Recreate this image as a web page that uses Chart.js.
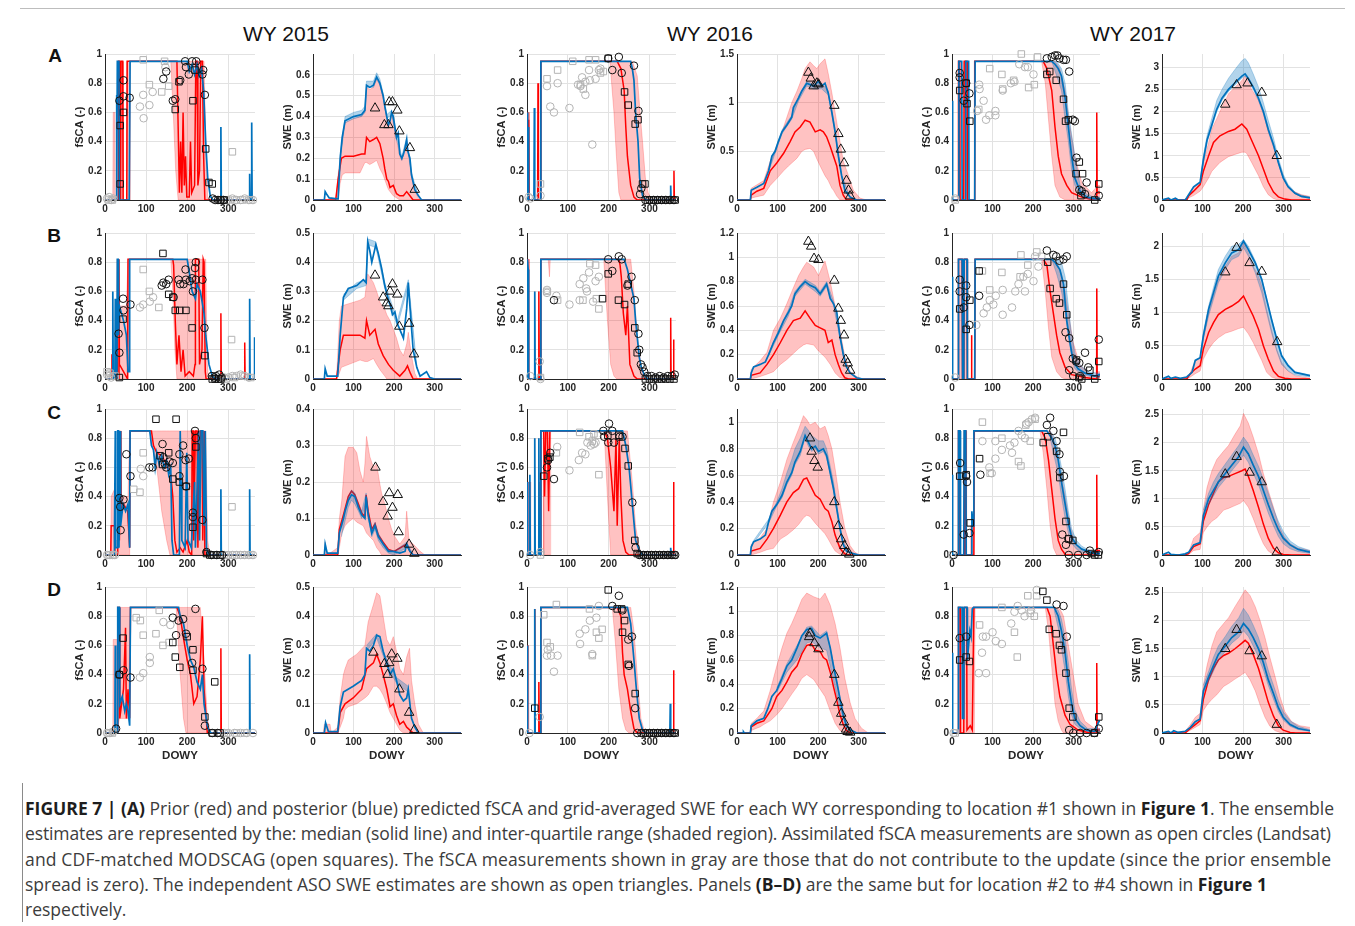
<!DOCTYPE html>
<html><head><meta charset="utf-8">
<script src="https://cdn.jsdelivr.net/npm/chart.js@4.4.1/dist/chart.umd.min.js"></script>
<style>
body{margin:0;width:1355px;height:926px;background:#fff;position:relative;overflow:hidden;font-family:"Liberation Sans",Arial,sans-serif}
.yr{position:absolute;font-size:21px;color:#111;transform:translate(-50%,-50%);white-space:nowrap}
.lt{position:absolute;font-size:19px;font-weight:bold;color:#111;transform:translate(-50%,-50%)}
.cap{position:absolute;left:25px;font-family:"Open Sans","Liberation Sans",sans-serif;font-size:16px;line-height:20px;color:#3c3c3c;white-space:nowrap}
.cap b{color:#1e1e1e}
</style></head><body>
<div style="position:absolute;left:20px;top:8px;width:1325px;height:1px;background:#bdbdbd"></div>
<div class="yr" style="left:286px;top:34px">WY 2015</div>
<div class="yr" style="left:710px;top:34px">WY 2016</div>
<div class="yr" style="left:1133px;top:34px">WY 2017</div>
<div class="lt" style="left:55px;top:56px">A</div>
<div class="lt" style="left:54px;top:236px">B</div>
<div class="lt" style="left:54px;top:413px">C</div>
<div class="lt" style="left:54px;top:590px">D</div>
<div style="position:absolute;left:22px;top:783px;width:1px;height:139px;background:#8a8a8a"></div>
<div class="cap" id="cap1" data-w="1309" style="top:798px"><b>FIGURE 7 | (A)</b> Prior (red) and posterior (blue) predicted fSCA and grid-averaged SWE for each WY corresponding to location #1 shown in <b>Figure 1</b>. The ensemble</div>
<div class="cap" data-w="1306" style="top:823px">estimates are represented by the: median (solid line) and inter-quartile range (shaded region). Assimilated fSCA measurements are shown as open circles (Landsat)</div>
<div class="cap" data-w="1306" style="top:849px">and CDF-matched MODSCAG (open squares). The fSCA measurements shown in gray are those that do not contribute to the update (since the prior ensemble</div>
<div class="cap" data-w="1242" style="top:874px">spread is zero). The independent ASO SWE estimates are shown as open triangles. Panels <b>(B–D)</b> are the same but for location #2 to #4 shown in <b>Figure 1</b></div>
<div class="cap" style="top:899px">respectively.</div>
<script>
// ---------- axis ticks / limits ----------
var xTicks = [0,100,200,300];
var yTicksF = [0,0.2,0.4,0.6,0.8,1];
var sweMax = [[0.7,1.5,3.3],[0.5,1.2,2.2],[0.4,1.1,2.6],[0.5,1.2,2.6]];
var sweTicks = [
 [[0,0.1,0.2,0.3,0.4,0.5,0.6],[0,0.5,1,1.5],[0,0.5,1,1.5,2,2.5,3]],
 [[0,0.1,0.2,0.3,0.4,0.5],[0,0.2,0.4,0.6,0.8,1,1.2],[0,0.5,1,1.5,2]],
 [[0,0.1,0.2,0.3,0.4],[0,0.2,0.4,0.6,0.8,1],[0,0.5,1,1.5,2,2.5]],
 [[0,0.1,0.2,0.3,0.4,0.5],[0,0.2,0.4,0.6,0.8,1,1.2],[0,0.5,1,1.5,2,2.5]]];

// ---------- Row A, WY2015 ----------
var fA15_pb=[[0,0,0],[19,0,0],[20,0,0.6],[24,0,0.6],[25,0,0],[31,0,0],[32,0,0.95],[44,0,0.95],[45,0,0],[52,0,0],[53,0,0.95],[61,0,0.95],[62,0.95,0.95],[160,0.95,0.95],[166,0.6,0.95],[172,0.2,0.95],[178,0,0.95],[241,0,0.95],[246,0,0.3],[250,0,0],[365,0,0]];
var fA15_pm=[[0,0],[32,0],[33,0.95],[35,0.95],[36,0],[38,0],[39,0.95],[43,0.95],[44,0],[53,0],[54,0.95],[175,0.95],[178,0.5],[181,0.05],[184,0.4],[187,0.05],[190,0.6],[193,0.1],[196,0.3],[199,0.02],[205,0.02],[208,0.4],[211,0.05],[218,0.1],[221,0.95],[224,0.95],[226,0.1],[230,0.2],[233,0.95],[237,0.95],[240,0.3],[243,0],[365,0]];
var fA15_qm=[[0,0],[27,0],[28,0.72],[29,0],[30,0.95],[34,0.95],[35,0],[59,0],[61,0.95],[200,0.95],[205,0.88],[212,0.93],[218,0.86],[224,0.93],[229,0.85],[235,0.9],[240,0.75],[245,0.4],[250,0.15],[256,0.03],[262,0],[281,0],[282,0.5],[283,0],[351,0],[352,0.18],[353,0],[356,0],[357,0.53],[358,0],[365,0]];
var fA15_oc=[[35,0.68],[45,0.82],[45,0.71],[60,0.7],[142,0.83],[149,0.88],[165,0.68],[171,0.69],[183,0.82],[195,0.95],[197,0.91],[204,0.86],[212,0.95],[222,0.95],[237,0.86],[239,0.89],[243,0.72],[262,0.01],[268,0],[275,0],[282,0],[288,0]];
var fA15_os=[[37,0.51],[37,0.11],[45,0.6],[171,0.62],[180,0.81],[214,0.68],[219,0.89],[245,0.35],[253,0.12],[261,0.11],[280,0],[290,0]];
var fA15_gc=[[5,0.01],[10,0.02],[15,0],[20,0.01],[85,0.64],[93,0.72],[94,0.56],[108,0.65],[116,0.74],[147,0.91],[300,0],[310,0.01],[320,0],[330,0],[340,0.01],[350,0],[360,0]];
var fA15_gs=[[8,0],[18,0],[93,0.96],[108,0.79],[138,0.74],[145,0.95],[155,0.78],[310,0.33],[295,0],[315,0],[335,0],[355,0]];

var sA15_pb=[[0,0,0],[56,0,0],[62,0,0.12],[67,0.08,0.2],[72,0.12,0.3],[79,0.13,0.37],[100,0.13,0.39],[116,0.13,0.4],[128,0.18,0.42],[132,0.18,0.54],[140,0.17,0.53],[149,0.18,0.54],[157,0.19,0.58],[165,0.15,0.55],[173,0.12,0.49],[182,0.07,0.39],[186,0.05,0.35],[194,0.03,0.41],[198,0.02,0.39],[206,0.01,0.29],[214,0,0.21],[219,0,0.19],[231,0,0.28],[239,0,0.19],[243,0,0.11],[251,0,0.04],[260,0,0.01],[268,0,0],[365,0,0]];
var sA15_pm=[[0,0],[56,0],[62,0.1],[70,0.2],[79,0.21],[100,0.21],[120,0.22],[128,0.22],[132,0.3],[140,0.28],[149,0.29],[157,0.3],[165,0.27],[173,0.2],[177,0.15],[182,0.1],[186,0.09],[190,0.06],[198,0.07],[206,0.03],[214,0.02],[223,0.02],[231,0.04],[239,0.02],[247,0],[365,0]];
var sA15_qb=[[67,0.19,0.21],[79,0.37,0.4],[100,0.39,0.42],[120,0.4,0.43],[128,0.42,0.45],[132,0.54,0.57],[149,0.54,0.57],[157,0.58,0.61],[165,0.55,0.58],[173,0.49,0.51],[182,0.39,0.41],[194,0.41,0.43],[206,0.29,0.31],[219,0.19,0.21],[231,0.28,0.3],[243,0.11,0.13],[260,0.02,0.02]];
var sA15_qm=[[0,0],[28,0],[30,0.04],[33,0.03],[40,0.01],[60,0.005],[62,0.005],[67,0.2],[72,0.3],[79,0.38],[100,0.4],[120,0.41],[128,0.43],[132,0.55],[140,0.54],[149,0.55],[157,0.59],[165,0.56],[173,0.5],[177,0.45],[182,0.4],[186,0.36],[190,0.38],[194,0.42],[198,0.4],[202,0.35],[206,0.3],[210,0.32],[214,0.22],[219,0.2],[223,0.22],[227,0.25],[231,0.29],[233,0.24],[239,0.2],[243,0.12],[251,0.05],[260,0.02],[268,0],[365,0]];
var sA15_tri=[[153,0.44],[176,0.36],[186,0.36],[188,0.47],[196,0.47],[208,0.43],[213,0.33],[239,0.25],[251,0.05]];

// ---------- Row A, WY2016 ----------
var fA16_pb=[[0,0,0],[1,0,0.6],[5,0,0.6],[6,0,0],[26,0,0],[27,0,0.8],[29,0,0.8],[30,0,0],[33,0,0],[34,0.95,0.95],[203,0.95,0.95],[213,0.6,0.95],[219,0.3,0.95],[225,0.05,0.95],[230,0,0.95],[258,0,0.95],[270,0,0.85],[277,0,0.6],[283,0,0.4],[290,0,0.15],[297,0,0.05],[305,0,0],[365,0,0]];
var fA16_pm=[[0,0],[1,0.6],[2,0],[4,0.55],[5,0],[26,0],[27,0.8],[28,0],[33,0],[34,0.95],[221,0.95],[230,0.9],[238,0.75],[242,0.5],[246,0.3],[250,0.2],[254,0.1],[262,0.02],[270,0],[359,0],[360,0.2],[361,0],[365,0]];
var fA16_qm=[[0,0],[1,0.6],[2,0],[3,0.5],[4,0],[17,0],[18,0.63],[19,0],[33,0],[34,0.95],[254,0.95],[258,0.9],[262,0.82],[266,0.6],[272,0.4],[276,0.15],[283,0.03],[291,0],[351,0],[352,0.1],[353,0],[365,0]];
var fA16_oc=[[199,0.97],[209,0.89],[225,0.98],[232,0.87],[262,0.92],[273,0.61],[280,0.08],[277,0.04],[290,0],[300,0],[310,0],[320,0],[330,0],[340,0],[350,0],[360,0]];
var fA16_os=[[199,0.97],[239,0.74],[248,0.65],[265,0.52],[272,0.55],[283,0.11],[289,0.11],[295,0],[305,0],[315,0],[325,0],[335,0],[345,0],[355,0],[363,0]];
var fA16_gc=[[4,0.02],[8,0.01],[33,0.03],[49,0.78],[57,0.64],[66,0.6],[75,0.8],[104,0.63],[125,0.79],[131,0.78],[135,0.84],[143,0.81],[143,0.72],[152,0.89],[154,0.82],[160,0.38],[168,0.83],[176,0.89],[180,0.9]];
var fA16_gs=[[33,0.11],[49,0.83],[75,0.89],[112,0.95],[131,0.79],[138,0.76],[152,0.96],[168,0.96],[180,0.87],[187,0.88]];

var sA16_pb=[[0,0,0],[33,0,0],[35,0.02,0.12],[66,0.05,0.2],[82,0.15,0.4],[98,0.22,0.55],[115,0.3,0.75],[127,0.35,0.9],[135,0.38,1.0],[148,0.43,1.12],[160,0.5,1.25],[168,0.52,1.35],[180,0.53,1.42],[189,0.5,1.38],[197,0.42,1.35],[205,0.35,1.4],[217,0.25,1.45],[225,0.2,1.3],[234,0.12,1.1],[238,0.1,1.0],[246,0.04,0.8],[254,0,0.6],[262,0,0.4],[275,0,0.25],[287,0,0.1],[303,0,0.02],[320,0,0],[365,0,0]];
var sA16_pm=[[0,0],[33,0],[35,0.05],[49,0.09],[66,0.12],[82,0.3],[98,0.38],[115,0.48],[131,0.6],[143,0.7],[156,0.75],[168,0.82],[180,0.8],[193,0.7],[205,0.72],[213,0.7],[221,0.65],[230,0.55],[238,0.45],[246,0.35],[254,0.15],[262,0.05],[270,0],[365,0]];
var sA16_qb=[[78,0.29,0.31],[94,0.48,0.52],[111,0.68,0.72],[135,0.83,0.87],[152,1.02,1.07],[172,1.17,1.22],[189,1.14,1.19],[209,1.14,1.2],[225,1.08,1.12],[242,0.68,0.72],[258,0.24,0.26],[279,0.02,0.03]];
var sA16_qm=[[0,0],[33,0],[35,0.1],[49,0.13],[66,0.17],[78,0.3],[86,0.45],[94,0.5],[102,0.6],[111,0.7],[123,0.77],[135,0.85],[139,0.95],[152,1.05],[160,1.12],[172,1.2],[189,1.17],[201,1.22],[209,1.17],[217,1.2],[225,1.1],[234,0.9],[242,0.7],[250,0.45],[258,0.25],[266,0.1],[279,0.03],[295,0],[365,0]];
var sA16_tri=[[176,1.31],[182,1.25],[189,1.17],[197,1.2],[201,1.19],[240,0.97],[250,0.68],[256,0.52],[264,0.38],[270,0.2],[275,0.1],[279,0.04]];

// ---------- Row A, WY2017 ----------
var fA17_pb=[[0,0,0],[15,0,0],[16,0,0.95],[19,0,0.95],[20,0,0],[29,0,0],[30,0,0.95],[37,0,0.95],[38,0,0],[55,0,0],[56,0.95,0.95],[221,0.95,0.95],[230,0.8,0.95],[238,0.55,0.95],[246,0.3,0.95],[254,0.1,0.95],[266,0.02,0.9],[279,0,0.75],[291,0,0.5],[303,0,0.3],[320,0,0.12],[344,0,0.05],[360,0,0.1],[365,0,0.1]];
var fA17_pm=[[0,0],[15,0],[16,0.95],[19,0.95],[20,0],[29,0],[30,0.95],[37,0.95],[38,0],[55,0],[56,0.95],[225,0.95],[234,0.9],[246,0.75],[254,0.5],[262,0.3],[270,0.18],[283,0.1],[295,0.05],[320,0.02],[350,0],[356,0],[357,0.6],[358,0.05],[365,0.05]];
var fA17_qb=[[246,0.95,0.95],[258,0.85,0.95],[270,0.75,0.9],[279,0.55,0.8],[287,0.4,0.6],[295,0.2,0.45],[303,0.1,0.3],[316,0.03,0.1],[332,0.01,0.04],[350,0,0.02],[365,0,0.02]];
var fA17_qm=[[0,0],[1,0.68],[2,0],[16,0],[17,0.95],[24,0.95],[25,0],[33,0],[34,0.95],[41,0.95],[42,0],[56,0],[57,0.95],[246,0.95],[254,0.93],[262,0.9],[270,0.85],[279,0.7],[287,0.5],[295,0.3],[303,0.15],[316,0.06],[332,0.02],[352,0.01],[365,0.01]];
var fA17_oc=[[19,0.87],[19,0.84],[29,0.68],[35,0.8],[43,0.73],[234,0.97],[246,0.98],[254,0.99],[260,0.99],[265,0.97],[275,0.96],[281,0.96],[289,0.88],[298,0.55],[303,0.54],[307,0.29],[314,0.07],[320,0.06],[328,0.04],[332,0.12],[362,0.03]];
var fA17_os=[[19,0.75],[35,0.8],[37,0.66],[44,0.54],[234,0.86],[241,0.88],[257,0.82],[275,0.69],[280,0.54],[287,0.55],[306,0.18],[314,0.26],[322,0.18],[318,0.03],[352,0],[362,0.11]];
var fA17_gc=[[8,0.01],[62,0.61],[67,0.79],[68,0.76],[78,0.68],[84,0.55],[92,0.58],[107,0.61],[107,0.58],[125,0.75],[145,0.8],[154,0.81],[166,0.93],[180,0.91],[187,0.91],[201,0.86]];
var fA17_gs=[[8,0],[66,0.62],[93,0.9],[123,0.86],[125,0.76],[152,0.82],[171,1.0],[189,0.77],[203,0.79],[211,0.98]];

var sA17_pb=[[0,0,0],[61,0,0],[66,0.05,0.1],[78,0.1,0.28],[94,0.2,0.38],[102,0.3,0.85],[115,0.5,1.3],[123,0.65,1.6],[143,0.85,2.0],[164,0.98,2.4],[180,1.03,2.55],[197,1.08,2.7],[205,1.08,2.8],[209,1.05,2.75],[221,0.85,2.5],[238,0.55,2.25],[250,0.3,1.95],[262,0.12,1.55],[275,0.03,1.2],[287,0,0.85],[299,0,0.5],[311,0,0.3],[328,0,0.18],[344,0,0.12],[365,0,0.08]];
var sA17_pm=[[0,0],[61,0],[66,0.1],[78,0.2],[94,0.35],[102,0.65],[115,1.0],[127,1.3],[143,1.45],[164,1.55],[180,1.6],[197,1.72],[209,1.6],[221,1.35],[238,1.0],[250,0.7],[262,0.4],[275,0.18],[287,0.07],[303,0.02],[320,0],[365,0]];
var sA17_qb=[[94,0.38,0.45],[102,0.85,1.0],[111,1.3,1.45],[123,1.65,1.85],[135,2.0,2.25],[148,2.25,2.5],[164,2.45,2.75],[180,2.6,2.95],[197,2.75,3.15],[205,2.8,3.2],[213,2.7,3.1],[225,2.5,2.85],[238,2.25,2.55],[250,1.95,2.2],[262,1.55,1.8],[275,1.2,1.4],[287,0.82,0.95],[299,0.48,0.58],[311,0.28,0.35],[328,0.14,0.18],[344,0.07,0.11],[365,0.05,0.07]];
var sA17_qm=[[0,0],[16,0.04],[22,0],[33,0.04],[40,0],[57,0],[61,0.05],[78,0.3],[86,0.35],[94,0.4],[102,0.9],[111,1.35],[123,1.7],[135,2.05],[148,2.3],[164,2.5],[180,2.65],[197,2.8],[205,2.85],[213,2.75],[225,2.55],[238,2.3],[250,2.0],[262,1.6],[275,1.25],[287,0.85],[299,0.5],[311,0.3],[328,0.15],[344,0.08],[365,0.05]];
var sA17_tri=[[156,2.16],[184,2.6],[211,2.64],[246,2.43],[283,1.0]];

// ---------- Row B, WY2015 ----------
var fB15_pb=[[0,0,0],[16,0,0],[17,0,0.17],[18,0,0],[28,0,0],[29,0,0.82],[34,0,0.82],[35,0,0.5],[52,0,0.5],[56,0,0.82],[60,0.82,0.82],[160,0.82,0.82],[165,0.6,0.82],[170,0.2,0.82],[175,0,0.82],[245,0,0.82],[249,0,0.1],[252,0,0],[365,0,0]];
var fB15_pm=[[0,0],[16,0],[17,0.17],[18,0],[28,0],[29,0.48],[30,0],[33,0],[34,0.82],[35,0.1],[45,0.05],[55,0],[56,0.82],[165,0.82],[167,0.78],[171,0.4],[175,0.1],[180,0.3],[185,0.05],[190,0.2],[195,0.02],[205,0.05],[215,0.02],[219,0.1],[220,0.82],[228,0.82],[230,0.1],[236,0.2],[239,0.82],[241,0.8],[244,0.05],[246,0],[281,0],[282,0.45],[283,0],[339,0],[340,0.25],[341,0],[365,0]];
var fB15_qm=[[0,0],[18,0],[19,0.6],[20,0],[24,0],[25,0.55],[26,0],[29,0],[30,0.82],[32,0.82],[33,0.3],[35,0.5],[40,0.45],[45,0.4],[52,0.3],[56,0.05],[59,0.05],[60,0.82],[200,0.82],[204,0.75],[212,0.6],[220,0.55],[224,0.65],[232,0.6],[241,0.45],[245,0.3],[253,0.1],[261,0.02],[268,0],[351,0],[352,0.55],[353,0],[363,0],[364,0.28],[365,0.28]];
var fB15_oc=[[33,0.31],[35,0.18],[44,0.55],[45,0.47],[62,0.51],[138,0.64],[142,0.66],[149,0.65],[155,0.68],[167,0.56],[179,0.68],[183,0.65],[191,0.65],[196,0.75],[197,0.68],[206,0.67],[212,0.69],[214,0.6],[219,0.76],[221,0.8],[221,0.68],[237,0.68],[242,0.35],[260,0.02],[266,0.01],[270,0.02],[278,0.03],[284,0.01]];
var fB15_os=[[35,0.01],[44,0.41],[141,0.86],[155,0.58],[165,0.56],[171,0.47],[182,0.47],[197,0.47],[212,0.35],[243,0.16],[261,0],[268,0],[276,0],[282,0]];
var fB15_gc=[[5,0.03],[10,0.02],[15,0.01],[20,0.02],[85,0.49],[93,0.51],[109,0.53],[117,0.56],[290,0.01],[300,0.01],[310,0.02],[320,0.02],[330,0.03],[340,0.02],[350,0.01]];
var fB15_gs=[[5,0.05],[12,0.04],[25,0.02],[93,0.75],[108,0.6],[131,0.49],[308,0.27],[295,0],[315,0.01],[335,0.02],[355,0.01]];

var sB15_pb=[[0,0,0],[58,0,0],[65,0.02,0.2],[70,0.04,0.25],[116,0.065,0.27],[128,0.06,0.28],[135,0.06,0.36],[149,0.07,0.33],[157,0.05,0.3],[166,0.03,0.26],[177,0.01,0.24],[182,0,0.22],[190,0,0.2],[198,0,0.17],[206,0,0.14],[214,0,0.1],[223,0,0.08],[231,0,0.12],[235,0,0.16],[243,0,0.08],[251,0,0.02],[258,0,0],[365,0,0]];
var sB15_pm=[[0,0],[58,0],[67,0.1],[75,0.15],[116,0.15],[128,0.14],[132,0.2],[140,0.15],[153,0.17],[161,0.12],[173,0.08],[186,0.05],[198,0.03],[214,0.01],[227,0.03],[233,0.045],[240,0.02],[247,0],[365,0]];
var sB15_qb=[[75,0.27,0.29],[108,0.31,0.33],[131,0.32,0.34],[135,0.46,0.48],[155,0.45,0.47],[177,0.31,0.33],[208,0.18,0.2],[235,0.32,0.34],[256,0.035,0.045]];
var sB15_qm=[[0,0],[28,0],[30,0.035],[35,0.01],[61,0.01],[67,0.15],[75,0.28],[87,0.31],[108,0.32],[124,0.34],[131,0.33],[135,0.47],[140,0.44],[145,0.4],[150,0.43],[155,0.46],[161,0.43],[169,0.38],[177,0.32],[186,0.27],[191,0.25],[196,0.22],[202,0.23],[208,0.19],[214,0.17],[223,0.14],[231,0.24],[235,0.33],[239,0.25],[247,0.1],[256,0.04],[264,0.01],[280,0.025],[288,0.005],[300,0],[365,0]];
var sB15_tri=[[153,0.355],[173,0.28],[182,0.26],[186,0.25],[190,0.3],[196,0.325],[208,0.29],[213,0.18],[237,0.19],[249,0.085]];

// ---------- Row B, WY2016 ----------
var fB16_pb=[[0,0,0],[1,0,0.82],[5,0,0.82],[6,0,0],[18,0,0],[19,0,0.6],[20,0,0],[28,0,0],[29,0,0.6],[30,0,0],[33,0,0],[34,0.82,0.82],[52,0.82,0.82],[55,0.7,0.82],[57,0.82,0.82],[188,0.82,0.82],[197,0.4,0.82],[205,0.1,0.82],[213,0.02,0.82],[220,0,0.82],[254,0,0.82],[262,0,0.6],[270,0,0.3],[279,0,0.1],[287,0,0.02],[295,0,0],[365,0,0]];
var fB16_pm=[[0,0],[1,0.82],[2,0],[28,0],[29,0.6],[30,0],[33,0],[34,0.82],[225,0.82],[228,0.78],[231,0.7],[236,0.45],[242,0.3],[246,0.5],[252,0.1],[262,0.02],[270,0],[351,0],[352,0.42],[353,0],[358,0],[359,0.27],[360,0],[365,0]];
var fB16_qm=[[0,0],[1,0.82],[3,0.75],[4,0],[18,0],[19,0.6],[20,0],[33,0],[34,0.82],[238,0.82],[246,0.75],[254,0.65],[262,0.55],[266,0.4],[275,0.15],[280,0.08],[287,0.03],[295,0],[365,0]];
var fB16_oc=[[66,0.54],[199,0.82],[209,0.74],[225,0.84],[232,0.82],[246,0.64],[256,0.7],[264,0.54],[273,0.31],[275,0.2],[279,0.1],[283,0.08],[287,0.05],[295,0.02],[305,0.02],[315,0.01],[325,0.02],[335,0.01],[345,0.02],[355,0.02],[362,0.03]];
var fB16_os=[[185,0.55],[199,0.72],[224,0.54],[239,0.51],[248,0.65],[264,0.35],[270,0.18],[290,0],[300,0],[310,0],[320,0],[330,0],[340,0],[350,0],[360,0]];
var fB16_gc=[[8,0.02],[31,0.12],[33,0],[49,0.61],[49,0.59],[72,0.57],[104,0.51],[129,0.65],[129,0.54],[138,0.69],[145,0.62],[147,0.6],[152,0.73],[162,0.53],[168,0.67],[176,0.7]];
var fB16_gs=[[33,0.01],[49,0.6],[75,0.54],[137,0.54],[154,0.79],[168,0.78],[170,0.55],[176,0.48]];

var sB16_pb=[[0,0,0],[33,0,0],[35,0,0.08],[57,0.02,0.15],[74,0.04,0.22],[90,0.06,0.4],[107,0.12,0.5],[123,0.16,0.62],[139,0.21,0.75],[152,0.25,0.85],[164,0.28,0.92],[172,0.29,0.96],[189,0.28,0.92],[201,0.23,0.85],[217,0.18,0.97],[230,0.12,0.8],[242,0.05,0.6],[254,0.01,0.4],[266,0,0.18],[279,0,0.06],[295,0,0.02],[311,0,0],[365,0,0]];
var sB16_pm=[[0,0],[33,0],[35,0.03],[57,0.05],[74,0.12],[90,0.2],[107,0.3],[123,0.4],[139,0.48],[156,0.5],[168,0.56],[180,0.5],[193,0.44],[205,0.42],[217,0.4],[225,0.3],[234,0.32],[242,0.2],[250,0.12],[258,0.05],[266,0.01],[275,0],[365,0]];
var sB16_qb=[[78,0.19,0.21],[102,0.36,0.4],[127,0.52,0.57],[143,0.68,0.72],[168,0.78,0.82],[193,0.72,0.77],[205,0.68,0.72],[221,0.76,0.8],[238,0.6,0.64],[254,0.33,0.37],[270,0.09,0.11]];
var sB16_qm=[[0,0],[33,0],[35,0.05],[41,0.1],[57,0.12],[70,0.14],[78,0.2],[90,0.3],[102,0.38],[115,0.48],[127,0.55],[135,0.6],[143,0.7],[156,0.76],[168,0.8],[180,0.77],[193,0.75],[205,0.7],[213,0.74],[221,0.78],[230,0.66],[238,0.62],[246,0.55],[254,0.35],[262,0.2],[270,0.1],[279,0.05],[295,0.01],[310,0],[365,0]];
var sB16_tri=[[176,1.13],[183,1.09],[190,0.99],[201,0.98],[240,0.81],[250,0.58],[256,0.48],[264,0.36],[268,0.16],[273,0.13],[279,0.07]];

// ---------- Row B, WY2017 ----------
var fB17_pb=[[0,0,0],[15,0,0],[16,0,0.82],[25,0,0.82],[26,0,0],[29,0,0],[30,0,0.82],[37,0,0.82],[38,0,0],[47,0,0],[48,0,0.3],[49,0,0],[56,0,0],[57,0.82,0.82],[221,0.82,0.82],[230,0.6,0.82],[238,0.35,0.82],[246,0.15,0.82],[258,0.05,0.8],[270,0.01,0.72],[279,0,0.6],[287,0,0.45],[299,0,0.25],[315,0,0.1],[336,0,0.04],[355,0,0.02],[357,0,0.62],[359,0,0.05],[365,0,0.05]];
var fB17_pm=[[0,0],[15,0],[16,0.82],[25,0.82],[26,0],[29,0],[30,0.82],[37,0.82],[38,0],[47,0],[48,0.3],[49,0],[56,0],[57,0.82],[225,0.82],[234,0.78],[242,0.6],[250,0.45],[258,0.3],[266,0.18],[279,0.08],[295,0.03],[328,0.01],[356,0],[357,0.62],[358,0.02],[365,0.02]];
var fB17_qb=[[246,0.82,0.82],[258,0.72,0.82],[270,0.6,0.8],[279,0.45,0.7],[287,0.3,0.5],[295,0.15,0.3],[303,0.07,0.18],[315,0.04,0.1],[335,0.02,0.05],[360,0.01,0.04],[365,0.01,0.04]];
var fB17_qm=[[0,0],[1,0.7],[2,0],[15,0],[16,0.82],[25,0.82],[26,0],[29,0],[30,0.82],[37,0.82],[38,0],[56,0],[57,0.82],[246,0.82],[254,0.8],[266,0.75],[275,0.65],[283,0.4],[291,0.25],[299,0.12],[311,0.07],[328,0.04],[352,0.02],[365,0.03]];
var fB17_oc=[[19,0.68],[19,0.6],[29,0.49],[35,0.64],[35,0.56],[43,0.37],[67,0.57],[234,0.88],[250,0.85],[257,0.84],[265,0.81],[275,0.82],[283,0.84],[280,0.32],[289,0.28],[289,0.06],[298,0.14],[299,0.02],[306,0.12],[314,0.11],[316,0.02],[328,0.18],[336,0.08],[362,0.27]];
var fB17_os=[[19,0.48],[35,0.34],[44,0.54],[67,0.74],[236,0.8],[242,0.62],[257,0.55],[265,0.52],[275,0.65],[283,0.44],[307,0.13],[313,0.01],[320,0],[340,0.06],[352,0],[362,0.12]];
var fB17_gc=[[8,0.01],[60,0.37],[78,0.45],[86,0.49],[93,0.54],[102,0.51],[108,0.57],[125,0.61],[125,0.44],[148,0.49],[156,0.6],[164,0.65],[176,0.7],[180,0.6],[187,0.72],[201,0.67],[205,0.84],[213,0.77]];
var fB17_gs=[[75,0.74],[93,0.61],[123,0.73],[168,0.7],[170,0.85],[187,0.78],[209,0.87],[221,0.84]];

var sB17_pb=[[0,0,0],[61,0,0],[70,0.03,0.1],[82,0.08,0.28],[94,0.12,0.32],[102,0.3,0.62],[115,0.45,1.0],[127,0.55,1.25],[139,0.62,1.5],[156,0.69,1.7],[172,0.72,1.85],[189,0.76,1.9],[201,0.78,2.05],[213,0.68,1.9],[225,0.55,1.7],[238,0.38,1.55],[246,0.28,1.4],[258,0.1,1.05],[270,0.03,0.75],[283,0,0.45],[295,0,0.25],[311,0,0.12],[328,0,0.05],[365,0,0.01]];
var sB17_pm=[[0,0],[61,0],[70,0.08],[82,0.15],[94,0.2],[102,0.45],[115,0.7],[127,0.85],[139,0.97],[156,1.05],[172,1.1],[189,1.17],[201,1.25],[213,1.1],[225,0.95],[238,0.75],[250,0.5],[262,0.3],[275,0.12],[287,0.04],[303,0.01],[320,0],[365,0]];
var sB17_qb=[[94,0.3,0.34],[102,0.6,0.7],[115,0.95,1.1],[127,1.2,1.38],[139,1.45,1.65],[156,1.65,1.85],[172,1.8,2.0],[189,1.85,2.03],[201,1.98,2.1],[213,1.85,2.0],[230,1.6,1.78],[246,1.3,1.52],[258,1.0,1.22],[270,0.7,0.92],[283,0.42,0.62],[295,0.22,0.37],[311,0.12,0.22],[328,0.06,0.11],[365,0.03,0.06]];
var sB17_qm=[[0,0],[16,0.04],[22,0.01],[33,0.03],[45,0.01],[61,0.03],[74,0.1],[82,0.28],[94,0.32],[102,0.65],[115,1.05],[127,1.3],[139,1.55],[156,1.75],[172,1.9],[189,1.95],[201,2.08],[213,1.95],[230,1.75],[246,1.5],[258,1.2],[270,0.9],[283,0.6],[295,0.35],[311,0.2],[328,0.1],[365,0.05]];
var sB17_tri=[[156,1.61],[184,1.98],[216,1.75],[246,1.62],[284,0.56]];

// ---------- Row C, WY2015 ----------
var fC15_pb=[[0,0,0],[14,0,0],[15,0,0.4],[23,0,0.45],[24,0,0.1],[30,0,0.1],[31,0,0.85],[39,0,0.85],[40,0,0.4],[56,0,0.4],[60,0,0.85],[62,0.85,0.85],[109,0.85,0.85],[118,0.7,0.85],[126,0.6,0.85],[138,0.3,0.85],[150,0.1,0.85],[158,0,0.85],[245,0,0.85],[250,0,0.1],[255,0,0],[365,0,0]];
var fC15_pm=[[0,0],[14,0],[15,0.2],[23,0.2],[24,0],[31,0],[32,0.85],[34,0.85],[35,0.1],[38,0.85],[39,0.3],[45,0.35],[55,0.3],[60,0.05],[61,0.85],[113,0.85],[118,0.75],[126,0.7],[138,0.68],[150,0.62],[160,0.55],[165,0.4],[170,0.1],[175,0.02],[183,0.05],[190,0.02],[200,0.1],[205,0.02],[211,0],[212,0.85],[215,0.85],[216,0.1],[220,0.85],[224,0.85],[226,0.05],[232,0.85],[236,0.85],[238,0.1],[241,0.85],[243,0],[365,0]];
var fC15_qm=[[0,0],[22,0],[23,0.1],[25,0.85],[26,0.05],[30,0.05],[31,0.85],[33,0.85],[34,0.05],[37,0.85],[38,0.2],[44,0.35],[50,0.3],[56,0.35],[60,0.05],[61,0.85],[109,0.85],[113,0.75],[118,0.72],[122,0.6],[126,0.7],[132,0.62],[138,0.68],[144,0.6],[150,0.65],[155,0.55],[160,0.6],[163,0.1],[167,0],[181,0],[183,0.85],[185,0.5],[187,0.1],[195,0.05],[199,0.7],[202,0.1],[210,0.05],[218,0.5],[220,0.05],[228,0.85],[230,0.1],[234,0.85],[238,0.85],[241,0.2],[244,0.85],[247,0.05],[252,0],[281,0],[282,0.45],[283,0],[351,0],[352,0.45],[353,0],[365,0]];
var fC15_oc=[[35,0.39],[37,0.33],[38,0.17],[45,0.38],[52,0.69],[62,0.54],[108,0.6],[116,0.6],[140,0.76],[142,0.67],[146,0.62],[149,0.6],[157,0.64],[165,0.63],[181,0.69],[181,0.54],[190,0.75],[196,0.65],[197,0.47],[204,0.66],[214,0.29],[214,0.26],[219,0.85],[221,0.8],[237,0.24],[247,0.02],[259,0],[272,0],[285,0]];
var fC15_os=[[124,0.93],[134,0.68],[140,0.62],[155,0.7],[165,0.52],[173,0.93],[181,0.5],[198,0.47],[214,0.19],[221,0.74],[247,0.01],[255,0],[265,0],[280,0]];
var fC15_gc=[[5,0],[12,0],[18,0],[24,0],[87,0.59],[93,0.54],[290,0],[300,0],[310,0],[320,0],[330,0],[340,0],[350,0],[360,0]];
var fC15_gs=[[8,0],[20,0],[70,0.45],[85,0.43],[93,0.7],[309,0.33],[295,0],[315,0],[335,0],[355,0]];

var sC15_pb=[[0,0,0],[28,0,0],[30,0,0.035],[35,0,0],[61,0,0.02],[65,0.02,0.1],[71,0.06,0.15],[79,0.08,0.27],[87,0.09,0.295],[99,0.1,0.295],[108,0.09,0.28],[116,0.085,0.23],[124,0.08,0.2],[128,0.07,0.25],[132,0.06,0.325],[140,0.05,0.27],[149,0.04,0.24],[157,0.02,0.25],[164,0.01,0.2],[169,0,0.17],[177,0,0.14],[186,0,0.1],[194,0,0.07],[202,0,0.05],[214,0,0.03],[227,0,0.05],[231,0,0.12],[237,0,0.04],[247,0,0.03],[264,0,0.01],[276,0,0],[365,0,0]];
var sC15_pm=[[0,0],[61,0],[65,0.07],[75,0.11],[87,0.16],[95,0.175],[103,0.165],[112,0.14],[120,0.115],[128,0.105],[131,0.165],[136,0.12],[145,0.07],[153,0.085],[161,0.055],[173,0.035],[186,0.015],[200,0.01],[231,0.03],[239,0.01],[247,0],[365,0]];
var sC15_qb=[[70,0.05,0.08],[87,0.13,0.16],[95,0.15,0.178],[103,0.14,0.17],[112,0.12,0.14],[120,0.1,0.12],[131,0.15,0.17],[136,0.1,0.12],[145,0.05,0.07],[153,0.07,0.09],[161,0.04,0.06],[173,0.02,0.035],[186,0.005,0.015],[200,0,0.01],[231,0.02,0.035],[247,0,0.002]];
var sC15_qm=[[0,0],[28,0],[30,0.03],[35,0.005],[61,0.005],[65,0.06],[75,0.1],[79,0.12],[87,0.15],[95,0.165],[103,0.16],[112,0.13],[120,0.11],[128,0.1],[131,0.16],[136,0.11],[145,0.06],[153,0.08],[161,0.05],[173,0.03],[186,0.01],[198,0.01],[214,0.005],[227,0.01],[231,0.03],[239,0.01],[247,0],[365,0]];
var sC15_tri=[[154,0.24],[173,0.146],[184,0.106],[188,0.17],[196,0.13],[209,0.165],[211,0.063],[237,0.029],[250,0.004]];

// ---------- Row C, WY2016 ----------
var fC16_pb=[[0,0,0],[1,0,0.5],[8,0,0.5],[9,0,0],[18,0,0],[19,0,0.8],[20,0,0],[28,0,0],[29,0,0.8],[30,0,0],[33,0,0],[34,0.85,0.85],[40,0.85,0.85],[41,0,0.85],[57,0,0.85],[58,0.85,0.85],[189,0.85,0.85],[197,0.4,0.85],[205,0,0.85],[246,0,0.85],[258,0,0.5],[266,0,0.2],[275,0,0.05],[282,0,0],[365,0,0]];
var fC16_pm=[[0,0],[1,0.5],[2,0],[28,0],[29,0.5],[30,0],[33,0],[34,0.85],[41,0.85],[43,0.4],[46,0.85],[50,0.85],[53,0.3],[56,0.85],[189,0.85],[197,0.8],[205,0.6],[213,0.3],[218,0.8],[221,0.2],[226,0.8],[230,0.4],[235,0.1],[242,0.02],[250,0],[358,0],[359,0.5],[360,0],[365,0]];
var fC16_qm=[[0,0],[1,0.5],[2,0],[6,0],[7,0.55],[8,0],[18,0],[19,0.8],[20,0],[28,0],[29,0.8],[30,0],[33,0],[34,0.85],[234,0.85],[242,0.75],[250,0.6],[258,0.35],[266,0.1],[275,0.03],[283,0],[351,0],[352,0.05],[353,0],[365,0]];
var fC16_oc=[[49,0.6],[52,0.65],[57,0.7],[66,0.52],[187,0.85],[189,0.81],[199,0.77],[201,0.9],[209,0.85],[213,0.77],[227,0.81],[234,0.81],[258,0.36],[266,0.05],[275,0],[285,0],[295,0],[305,0],[315,0],[325,0],[335,0],[345,0],[355,0],[363,0]];
var fC16_os=[[41,0.54],[51,0.66],[56,0.67],[198,0.82],[225,0.82],[240,0.73],[248,0.61],[264,0.1],[270,0.01],[280,0],[290,0],[300,0],[310,0],[320,0],[330,0],[340,0],[350,0],[360,0]];
var fC16_gc=[[8,0],[33,0.02],[74,0.74],[104,0.58],[127,0.65],[135,0.7],[143,0.69],[148,0.77],[156,0.75],[164,0.76],[168,0.77]];
var fC16_gs=[[33,0],[72,0.7],[129,0.84],[152,0.81],[160,0.78],[164,0.83],[174,0.82],[176,0.55]];

var sC16_pb=[[0,0,0],[33,0,0],[35,0,0.08],[57,0.02,0.13],[74,0.04,0.2],[90,0.05,0.4],[107,0.12,0.55],[123,0.15,0.72],[139,0.19,0.85],[152,0.23,0.95],[164,0.28,1.05],[172,0.3,1.02],[180,0.29,0.98],[193,0.24,1.0],[205,0.2,0.95],[217,0.16,0.97],[225,0.12,0.9],[234,0.07,0.8],[242,0.03,0.65],[254,0.005,0.4],[266,0,0.2],[279,0,0.07],[291,0,0.02],[303,0,0],[365,0,0]];
var sC16_pm=[[0,0],[33,0],[35,0.03],[57,0.05],[74,0.12],[90,0.2],[107,0.3],[123,0.4],[139,0.47],[152,0.5],[164,0.57],[172,0.58],[180,0.53],[193,0.45],[205,0.42],[217,0.35],[225,0.33],[234,0.25],[242,0.15],[254,0.05],[262,0.02],[270,0],[365,0]];
var sC16_qb=[[41,0.09,0.11],[78,0.24,0.27],[98,0.37,0.4],[111,0.43,0.5],[123,0.53,0.62],[135,0.6,0.72],[143,0.68,0.8],[156,0.75,0.88],[168,0.88,0.97],[176,0.82,0.94],[184,0.78,0.9],[193,0.8,0.88],[201,0.76,0.86],[213,0.78,0.86],[221,0.73,0.8],[230,0.6,0.67],[238,0.48,0.55],[246,0.33,0.38],[254,0.19,0.22],[262,0.07,0.1],[275,0.02,0.03],[290,0,0.01]];
var sC16_qm=[[0,0],[33,0],[35,0.06],[41,0.1],[57,0.12],[70,0.15],[78,0.25],[86,0.33],[98,0.38],[111,0.45],[123,0.55],[135,0.62],[143,0.7],[156,0.78],[168,0.9],[176,0.85],[184,0.8],[193,0.82],[201,0.78],[213,0.8],[221,0.75],[230,0.62],[238,0.5],[246,0.35],[254,0.2],[262,0.08],[270,0.03],[287,0.01],[300,0],[365,0]];
var sC16_tri=[[180,0.88],[184,0.78],[191,0.71],[199,0.66],[240,0.4],[250,0.22],[257,0.12],[265,0.07],[269,0.02],[277,0.005]];

// ---------- Row C, WY2017 ----------
var fC17_pb=[[0,0,0],[15,0,0],[16,0,0.85],[20,0,0.85],[21,0,0],[29,0,0],[30,0,0.85],[35,0,0.85],[36,0,0],[45,0,0],[46,0,0.2],[53,0,0.2],[54,0,0.85],[55,0.85,0.85],[217,0.85,0.85],[225,0.7,0.85],[234,0.45,0.85],[242,0.2,0.85],[250,0.05,0.8],[258,0,0.72],[266,0,0.6],[279,0,0.4],[291,0,0.2],[303,0,0.08],[320,0,0.04],[352,0,0.02],[365,0,0.02]];
var fC17_pm=[[0,0],[15,0],[16,0.85],[19,0.85],[20,0],[30,0],[31,0.85],[34,0.85],[35,0],[54,0],[55,0.85],[221,0.85],[230,0.8],[238,0.65],[246,0.45],[254,0.25],[262,0.1],[270,0.04],[280,0],[356,0],[357,0.55],[358,0.03],[365,0.03]];
var fC17_qb=[[242,0.8,0.85],[254,0.65,0.8],[262,0.55,0.72],[270,0.4,0.6],[279,0.25,0.45],[287,0.15,0.3],[295,0.08,0.18],[307,0.04,0.1],[320,0.02,0.06],[340,0.01,0.03],[365,0,0.02]];
var fC17_qm=[[0,0],[1,0.55],[2,0],[15,0],[16,0.85],[20,0.85],[21,0],[29,0],[30,0.85],[34,0.85],[35,0],[48,0],[49,0.3],[52,0.2],[54,0.85],[234,0.85],[246,0.8],[254,0.75],[262,0.65],[270,0.5],[279,0.35],[287,0.22],[295,0.12],[307,0.07],[320,0.04],[352,0.01],[365,0.01]];
var fC17_oc=[[4,0],[20,0.63],[29,0.14],[35,0.54],[37,0.5],[43,0.15],[70,0.55],[234,0.89],[242,0.94],[250,0.85],[258,0.78],[265,0.69],[266,0.57],[272,0.14],[276,0.54],[281,0.07],[287,0.11],[288,0],[311,0],[332,0],[340,0.03],[362,0.02]];
var fC17_os=[[19,0.54],[35,0.55],[45,0.22],[68,0.66],[225,0.77],[236,0.81],[258,0.71],[266,0.53],[275,0.84],[281,0.23],[288,0.11],[298,0.1],[344,0.01],[352,0],[361,0]];
var fC17_gc=[[0,0],[75,0.78],[92,0.6],[98,0.56],[107,0.78],[107,0.66],[123,0.72],[143,0.75],[148,0.7],[154,0.77],[164,0.85],[172,0.82],[180,0.8],[184,0.9],[189,0.91],[197,0.93],[205,0.94]];
var fC17_gs=[[75,0.91],[94,0.56],[123,0.8],[164,0.64],[170,0.61],[182,0.89],[193,0.78],[205,0.93]];

var sC17_pb=[[0,0,0],[57,0,0],[66,0.01,0.05],[78,0.08,0.3],[94,0.1,0.4],[102,0.4,0.8],[111,0.5,1.2],[123,0.6,1.5],[135,0.66,1.7],[152,0.8,1.85],[164,0.83,1.95],[180,0.88,2.15],[193,0.92,2.3],[201,0.97,2.52],[213,0.85,2.35],[225,0.65,2.1],[238,0.4,1.8],[250,0.2,1.45],[262,0.07,1.15],[275,0.01,0.85],[287,0,0.55],[299,0,0.35],[316,0,0.2],[336,0,0.12],[365,0,0.08]];
var sC17_pm=[[0,0],[57,0],[66,0.03],[78,0.15],[94,0.2],[102,0.6],[115,0.9],[127,1.1],[139,1.3],[152,1.38],[164,1.4],[180,1.45],[197,1.5],[205,1.53],[213,1.4],[225,1.15],[238,0.85],[250,0.55],[262,0.3],[275,0.12],[287,0.04],[299,0.01],[320,0],[365,0]];
var sC17_qb=[[102,0.65,0.8],[115,0.9,1.1],[127,1.05,1.3],[139,1.2,1.45],[156,1.35,1.62],[172,1.5,1.78],[189,1.65,1.95],[201,1.78,2.1],[213,1.65,1.98],[225,1.45,1.78],[238,1.25,1.58],[250,1.0,1.35],[262,0.75,1.1],[275,0.52,0.82],[287,0.33,0.6],[299,0.2,0.42],[316,0.11,0.25],[336,0.06,0.15],[365,0.03,0.08]];
var sC17_qm=[[0,0],[16,0.05],[22,0.01],[40,0],[57,0.02],[66,0.05],[78,0.18],[94,0.22],[102,0.7],[115,1.0],[127,1.15],[139,1.3],[156,1.45],[172,1.6],[189,1.75],[201,1.92],[213,1.8],[225,1.6],[238,1.4],[250,1.15],[262,0.9],[275,0.65],[287,0.45],[299,0.3],[316,0.18],[336,0.1],[365,0.05]];
var sC17_tri=[[156,1.44],[184,1.75],[216,1.47],[246,1.3],[283,0.05]];

// ---------- Row D, WY2015 ----------
var fD15_pb=[[0,0,0],[19,0,0],[20,0,0.64],[30,0,0.64],[31,0,0.86],[35,0.1,0.86],[45,0.1,0.86],[56,0.1,0.86],[62,0.86,0.86],[173,0.86,0.86],[183,0.4,0.86],[191,0.1,0.86],[197,0,0.86],[232,0,0.86],[241,0,0.5],[249,0,0.1],[257,0,0],[365,0,0]];
var fD15_pm=[[0,0],[30,0],[31,0.86],[35,0.86],[36,0.1],[45,0.3],[50,0.72],[52,0.1],[56,0.3],[60,0.1],[62,0.86],[175,0.86],[183,0.8],[191,0.65],[200,0.5],[208,0.4],[216,0.2],[224,0.25],[232,0.5],[237,0.8],[241,0.3],[249,0],[281,0],[282,0.58],[283,0],[365,0]];
var fD15_qm=[[0,0],[24,0],[25,0.6],[26,0],[30,0],[31,0.86],[35,0.86],[36,0.2],[42,0.25],[48,0.15],[52,0.2],[56,0.15],[60,0.05],[62,0.86],[179,0.86],[183,0.8],[191,0.75],[200,0.6],[208,0.5],[216,0.45],[224,0.35],[232,0.3],[237,0.4],[241,0.2],[249,0.05],[253,0.02],[258,0],[351,0],[352,0.54],[353,0],[365,0]];
var fD15_oc=[[27,0.03],[35,0.4],[45,0.43],[62,0.38],[165,0.79],[173,0.67],[179,0.77],[190,0.78],[197,0.68],[212,0.48],[220,0.85],[237,0.44],[243,0.05],[261,0],[274,0]];
var fD15_os=[[35,0.4],[44,0.65],[165,0.62],[171,0.52],[182,0.45],[200,0.66],[214,0.57],[214,0.43],[243,0.11],[261,0],[267,0.35],[280,0]];
var fD15_gc=[[5,0],[12,0],[20,0.01],[85,0.38],[93,0.41],[109,0.48],[109,0.52],[142,0.76],[159,0.74],[290,0],[300,0],[315,0],[330,0],[345,0],[360,0]];
var fD15_gs=[[8,0],[18,0],[76,0.79],[86,0.77],[93,0.67],[124,0.68],[132,0.84],[141,0.6],[156,0.62],[295,0],[320,0],[340,0]];

var sD15_pb=[[0,0,0],[25,0,0],[28,0,0.03],[42,0,0.03],[45,0,0],[61,0,0.02],[67,0.02,0.12],[75,0.05,0.2],[79,0.08,0.22],[87,0.09,0.25],[108,0.1,0.27],[128,0.12,0.3],[136,0.13,0.38],[149,0.16,0.44],[157,0.16,0.48],[165,0.15,0.47],[173,0.13,0.4],[182,0.1,0.32],[190,0.07,0.3],[198,0.05,0.33],[206,0.03,0.28],[214,0.01,0.22],[223,0,0.2],[231,0,0.26],[238,0,0.29],[243,0,0.18],[251,0,0.1],[260,0,0.03],[272,0,0],[365,0,0]];
var sD15_pm=[[0,0],[61,0],[67,0.07],[79,0.1],[99,0.12],[120,0.15],[132,0.22],[149,0.24],[157,0.27],[165,0.24],[173,0.2],[182,0.15],[190,0.09],[198,0.1],[206,0.06],[214,0.03],[223,0.04],[231,0.02],[239,0.01],[247,0],[365,0]];
var sD15_qb=[[132,0.28,0.3],[157,0.325,0.34],[182,0.23,0.25],[206,0.17,0.19],[235,0.14,0.16]];
var sD15_qm=[[0,0],[28,0],[31,0.035],[38,0.005],[61,0.005],[67,0.09],[75,0.14],[99,0.16],[120,0.18],[128,0.2],[132,0.29],[140,0.28],[149,0.3],[157,0.335],[165,0.33],[173,0.28],[182,0.24],[190,0.2],[198,0.22],[206,0.18],[214,0.13],[223,0.11],[231,0.12],[235,0.15],[243,0.05],[251,0.02],[260,0],[365,0]];
var sD15_tri=[[149,0.276],[176,0.237],[184,0.2],[188,0.24],[194,0.27],[208,0.255],[213,0.15],[237,0.07],[250,0.011]];

// ---------- Row D, WY2016 ----------
var fD16_pb=[[0,0,0],[1,0,0.6],[4,0,0.6],[5,0,0],[18,0,0],[19,0,0.85],[20,0,0],[28,0,0],[29,0,0.35],[30,0,0],[33,0,0],[34,0.86,0.86],[209,0.86,0.86],[217,0.6,0.86],[225,0.3,0.86],[234,0.1,0.86],[242,0.02,0.86],[250,0,0.86],[254,0,0.86],[262,0,0.7],[270,0,0.4],[279,0,0.1],[287,0,0.02],[295,0,0],[365,0,0]];
var fD16_pm=[[0,0],[1,0.6],[2,0],[18,0],[19,0.85],[20,0],[28,0],[29,0.35],[30,0],[33,0],[34,0.86],[221,0.86],[230,0.8],[234,0.55],[238,0.4],[246,0.3],[254,0.15],[262,0.03],[270,0],[358,0],[359,0.43],[360,0],[365,0]];
var fD16_qm=[[0,0],[1,0.6],[2,0],[18,0],[19,0.85],[20,0],[33,0],[34,0.86],[246,0.86],[254,0.75],[262,0.5],[268,0.3],[275,0.1],[283,0.02],[291,0],[350,0],[351,0.2],[352,0],[365,0]];
var fD16_oc=[[209,0.87],[225,0.94],[234,0.84],[248,0.64],[250,0.46],[257,0.66],[265,0.17],[270,0],[280,0],[290,0],[300,0],[310,0],[320,0],[330,0],[340,0],[350,0],[360,0]];
var fD16_os=[[19,0.17],[199,0.98],[221,0.85],[232,0.85],[234,0.69],[239,0.77],[248,0.47],[265,0.27],[285,0],[295,0],[305,0],[315,0],[325,0],[335,0],[345,0],[355,0],[363,0]];
var fD16_gc=[[6,0],[31,0.11],[49,0.53],[51,0.57],[59,0.53],[66,0.42],[75,0.53],[129,0.68],[130,0.61],[143,0.71],[154,0.77],[160,0.54],[170,0.79],[176,0.87]];
var fD16_gs=[[41,0.81],[49,0.62],[57,0.59],[72,0.88],[153,0.85],[160,0.53],[170,0.69],[176,0.65],[184,0.71]];

var sD16_pb=[[0,0,0],[33,0,0],[35,0.02,0.08],[49,0.04,0.12],[57,0.05,0.15],[66,0.07,0.18],[82,0.1,0.35],[98,0.15,0.55],[111,0.2,0.7],[123,0.26,0.82],[135,0.32,0.9],[148,0.38,1.0],[160,0.45,1.1],[172,0.48,1.15],[189,0.44,1.12],[205,0.36,1.1],[217,0.3,1.15],[230,0.18,1.05],[242,0.08,0.9],[254,0.02,0.7],[266,0,0.45],[279,0,0.25],[291,0,0.12],[307,0,0.04],[324,0,0],[365,0,0]];
var sD16_pm=[[0,0],[33,0],[35,0.05],[49,0.08],[66,0.1],[76,0.15],[86,0.2],[98,0.3],[111,0.35],[123,0.42],[135,0.5],[148,0.55],[160,0.65],[172,0.72],[184,0.73],[193,0.68],[205,0.67],[213,0.62],[221,0.6],[230,0.5],[238,0.38],[246,0.27],[254,0.15],[262,0.07],[270,0.02],[280,0],[365,0]];
var sD16_qb=[[98,0.33,0.37],[123,0.5,0.57],[148,0.6,0.72],[172,0.74,0.87],[184,0.75,0.88],[205,0.7,0.8],[221,0.68,0.84],[238,0.43,0.57],[254,0.2,0.3],[270,0.03,0.07],[285,0,0.02]];
var sD16_qm=[[0,0],[15,0],[16,0.01],[18,0],[33,0],[35,0.06],[49,0.1],[66,0.12],[76,0.2],[86,0.3],[98,0.35],[111,0.45],[123,0.55],[135,0.6],[148,0.7],[160,0.8],[172,0.85],[184,0.86],[193,0.8],[205,0.78],[213,0.8],[221,0.82],[230,0.7],[238,0.55],[246,0.42],[254,0.28],[262,0.15],[270,0.06],[283,0.02],[295,0],[365,0]];
var sD16_tri=[[178,0.79],[180,0.82],[191,0.74],[201,0.69],[240,0.48],[250,0.25],[257,0.16],[264,0.09],[269,0.03],[273,0.01],[279,0.005]];

// ---------- Row D, WY2017 ----------
var fD17_pb=[[0,0,0],[15,0,0],[16,0,0.86],[55,0,0.86],[57,0.86,0.86],[230,0.86,0.86],[238,0.7,0.86],[246,0.45,0.86],[254,0.2,0.86],[262,0.08,0.86],[270,0.02,0.83],[275,0,0.8],[287,0,0.6],[299,0,0.4],[311,0,0.2],[328,0,0.08],[352,0,0.03],[365,0,0.03]];
var fD17_pm=[[0,0],[15,0],[16,0.86],[20,0.86],[21,0],[29,0],[30,0.86],[36,0.86],[37,0.02],[45,0.05],[50,0.02],[54,0.86],[234,0.86],[242,0.8],[250,0.6],[258,0.4],[266,0.25],[279,0.12],[291,0.06],[311,0.02],[340,0],[356,0],[357,0.48],[358,0.02],[365,0.02]];
var fD17_qb=[[252,0.84,0.86],[262,0.72,0.84],[270,0.58,0.78],[279,0.42,0.65],[287,0.25,0.48],[295,0.12,0.3],[303,0.06,0.16],[316,0.03,0.08],[335,0.01,0.03],[365,0.01,0.03]];
var fD17_qm=[[0,0],[1,0.55],[2,0],[15,0],[16,0.86],[25,0.86],[26,0.1],[29,0.1],[30,0.86],[37,0.86],[38,0.5],[44,0.7],[47,0.66],[50,0.85],[53,0.86],[252,0.86],[262,0.8],[270,0.7],[279,0.55],[287,0.35],[295,0.2],[303,0.1],[316,0.05],[332,0.02],[352,0.01],[362,0.08],[365,0.08]];
var fD17_oc=[[19,0.65],[35,0.66],[258,0.88],[275,0.87],[283,0.66],[289,0.02],[299,0],[316,0],[332,0],[351,0],[362,0.03]];
var fD17_os=[[19,0.5],[35,0.52],[43,0.49],[224,0.97],[234,0.91],[240,0.71],[257,0.68],[265,0.6],[270,0.57],[281,0.41],[289,0.17],[298,0.11],[351,0],[362,0.11]];
var fD17_gc=[[4,0],[66,0.41],[74,0.55],[76,0.66],[84,0.66],[84,0.41],[100,0.69],[108,0.63],[123,0.61],[146,0.75],[154,0.83],[162,0.87],[172,0.84],[179,0.8],[195,0.84],[209,0.98]];
var fD17_gs=[[8,0],[68,0.74],[123,0.86],[154,0.69],[161,0.52],[187,0.94],[193,0.82],[203,0.8],[209,0.94]];

var sD17_pb=[[0,0,0],[57,0,0.03],[70,0.05,0.15],[82,0.1,0.28],[94,0.15,0.35],[102,0.4,0.85],[111,0.5,1.2],[123,0.6,1.55],[135,0.68,1.8],[152,0.83,1.95],[164,0.88,2.05],[180,0.96,2.25],[193,1.02,2.4],[205,1.08,2.55],[217,0.95,2.45],[230,0.75,2.25],[242,0.5,2.0],[254,0.28,1.7],[266,0.12,1.35],[279,0.04,1.0],[291,0.01,0.65],[303,0,0.38],[320,0,0.2],[340,0,0.13],[365,0,0.1]];
var sD17_pm=[[0,0],[57,0],[70,0.08],[82,0.15],[94,0.22],[102,0.6],[115,0.95],[127,1.15],[139,1.3],[152,1.38],[164,1.42],[180,1.5],[197,1.6],[205,1.65],[213,1.6],[225,1.4],[238,1.15],[250,0.85],[262,0.55],[275,0.3],[287,0.13],[299,0.05],[316,0.01],[330,0],[365,0]];
var sD17_qb=[[102,0.7,0.85],[115,0.92,1.1],[127,1.1,1.35],[139,1.3,1.55],[156,1.45,1.72],[172,1.6,1.9],[189,1.7,2.05],[201,1.82,2.22],[213,1.72,2.1],[225,1.55,1.92],[238,1.35,1.7],[250,1.12,1.42],[262,0.85,1.12],[275,0.6,0.85],[287,0.38,0.58],[299,0.23,0.38],[316,0.12,0.22],[336,0.06,0.12],[365,0.03,0.06]];
var sD17_qm=[[0,0],[16,0.03],[22,0],[29,0.04],[40,0.01],[57,0.03],[70,0.1],[82,0.2],[94,0.25],[102,0.75],[115,1.0],[127,1.2],[139,1.4],[156,1.55],[172,1.7],[189,1.8],[201,1.95],[213,1.85],[225,1.7],[238,1.5],[250,1.25],[262,0.95],[275,0.7],[287,0.45],[299,0.28],[316,0.15],[336,0.08],[365,0.04]];
var sD17_tri=[[156,1.5],[184,1.84],[216,1.46],[246,1.37],[283,0.15]];

// ---------- layout ----------
var COLL = [105,313,527,737,952,1162];
var COLW = [150,148,149,148,148,148];
var ROWT = [53,232,408,586];
var PH = 147;
var FONT = '"Liberation Sans", Arial, sans-serif';
var ROWS = ['A','B','C','D'], YRS = ['15','16','17'];

function xy(a){return a.map(function(p){return {x:p[0],y:p[1]};});}
function hi(a){return a.map(function(p){return {x:p[0],y:p[2]};});}

function panel(col,row,name,isF,ymax,yticks){
  var L=COLL[col], T=ROWT[row], W=COLW[col];
  var xh = row===3 ? 34 : 18;
  var cw = 36+W+8, ch = 8+PH+xh;
  var cv=document.createElement('canvas');
  cv.width=cw; cv.height=ch;
  cv.style.cssText='position:absolute;left:'+(L-36)+'px;top:'+(T-8)+'px;width:'+cw+'px;height:'+ch+'px';
  document.body.appendChild(cv);
  function g(k){return window[name+'_'+k]||[];}
  function line(data,color,w,order,extra){var o={data:data,borderColor:color,borderWidth:w,pointRadius:0,showLine:true,fill:false,order:order,tension:0};for(var k in (extra||{}))o[k]=extra[k];return o;}
  function mark(a,style,color,r,order){return {data:xy(a),showLine:false,pointStyle:style,pointRadius:r,pointHoverRadius:r,pointBorderColor:color,pointBackgroundColor:'rgba(0,0,0,0)',pointBorderWidth:1,order:order,clip:false};}
  var ds=[];
  var pb=g('pb');
  if(pb.length){ds.push(line(xy(pb),'rgba(255,0,0,0.35)',0.6,10));ds.push(line(hi(pb),'rgba(255,0,0,0.35)',0.6,9,{fill:'-1',backgroundColor:'rgba(255,0,0,0.24)'}));}
  ds.push(line(xy(g('pm')),'#ff0000',1.5,8));
  var qb=g('qb');
  if(qb.length){ds.push(line(xy(qb),'rgba(0,114,189,0.45)',0.6,7));ds.push(line(hi(qb),'rgba(0,114,189,0.45)',0.6,6,{fill:'-1',backgroundColor:'rgba(0,114,189,0.3)'}));}
  ds.push(line(xy(g('qm')),'#0072bd',1.7,5));
  if(isF){
    ds.push(mark(g('gs'),'rect','#b4b4b4',4.6,4));
    ds.push(mark(g('gc'),'circle','#b4b4b4',3.8,3));
    ds.push(mark(g('os'),'rect','#111',4.6,2));
    ds.push(mark(g('oc'),'circle','#111',3.8,1));
  } else {
    ds.push(mark(g('tri'),'triangle','#111',5.5,0));
  }
  var tickFont={family:FONT,size:10,weight:'bold'};
  new Chart(cv,{type:'scatter',data:{datasets:ds},options:{
    responsive:false,animation:false,devicePixelRatio:1,events:[],
    layout:{padding:{left:0,top:8,right:8,bottom:0}},
    plugins:{legend:{display:false},tooltip:{enabled:false}},
    scales:{
      x:{type:'linear',min:0,max:365,
         afterBuildTicks:function(s){s.ticks=xTicks.map(function(v){return {value:v};});},
         afterFit:function(s){s.height=xh;},
         grid:{color:'#e2e2e2',drawTicks:false},
         border:{display:true,color:'#262626',width:1},
         ticks:{padding:3,color:'#262626',font:tickFont,maxRotation:0,autoSkip:false,callback:function(v){return String(v);}},
         title:{display:row===3,text:'DOWY',color:'#262626',font:{family:FONT,size:11.5,weight:'bold'},padding:{top:0,bottom:4}}},
      y:{type:'linear',min:0,max:ymax,
         afterBuildTicks:function(s){s.ticks=yticks.map(function(v){return {value:v};});},
         afterFit:function(s){s.width=36;},
         grid:{color:'#e2e2e2',drawTicks:false},
         border:{display:true,color:'#262626',width:1},
         ticks:{padding:3,color:'#262626',font:tickFont,autoSkip:false,callback:function(v){return String(v);}},
         title:{display:true,text:isF?'fSCA (-)':'SWE (m)',color:'#262626',font:{family:FONT,size:11,weight:'bold'},padding:{top:4,bottom:4}}}
    }}});
}

for(var r=0;r<4;r++){
  for(var y=0;y<3;y++){
    panel(2*y,r,'f'+ROWS[r]+YRS[y],true,1,yTicksF);
    panel(2*y+1,r,'s'+ROWS[r]+YRS[y],false,sweMax[r][y],sweTicks[r][y]);
  }
}

// caption: choose font size from the first line, then fine-fit each line
(function(){
  var caps=document.querySelectorAll('.cap');
  var first=document.getElementById('cap1');
  var nat=first.getBoundingClientRect().width;
  var fs=16*(+first.getAttribute('data-w'))/nat;
  Array.prototype.forEach.call(caps,function(el){el.style.fontSize=fs+'px';});
  Array.prototype.forEach.call(document.querySelectorAll('.cap[data-w]'),function(el){
    var target=+el.getAttribute('data-w');
    var w=el.getBoundingClientRect().width;
    var n=el.textContent.length-1;
    el.style.letterSpacing=((target-w)/n)+'px';
  });
})();
</script>
</body></html>
